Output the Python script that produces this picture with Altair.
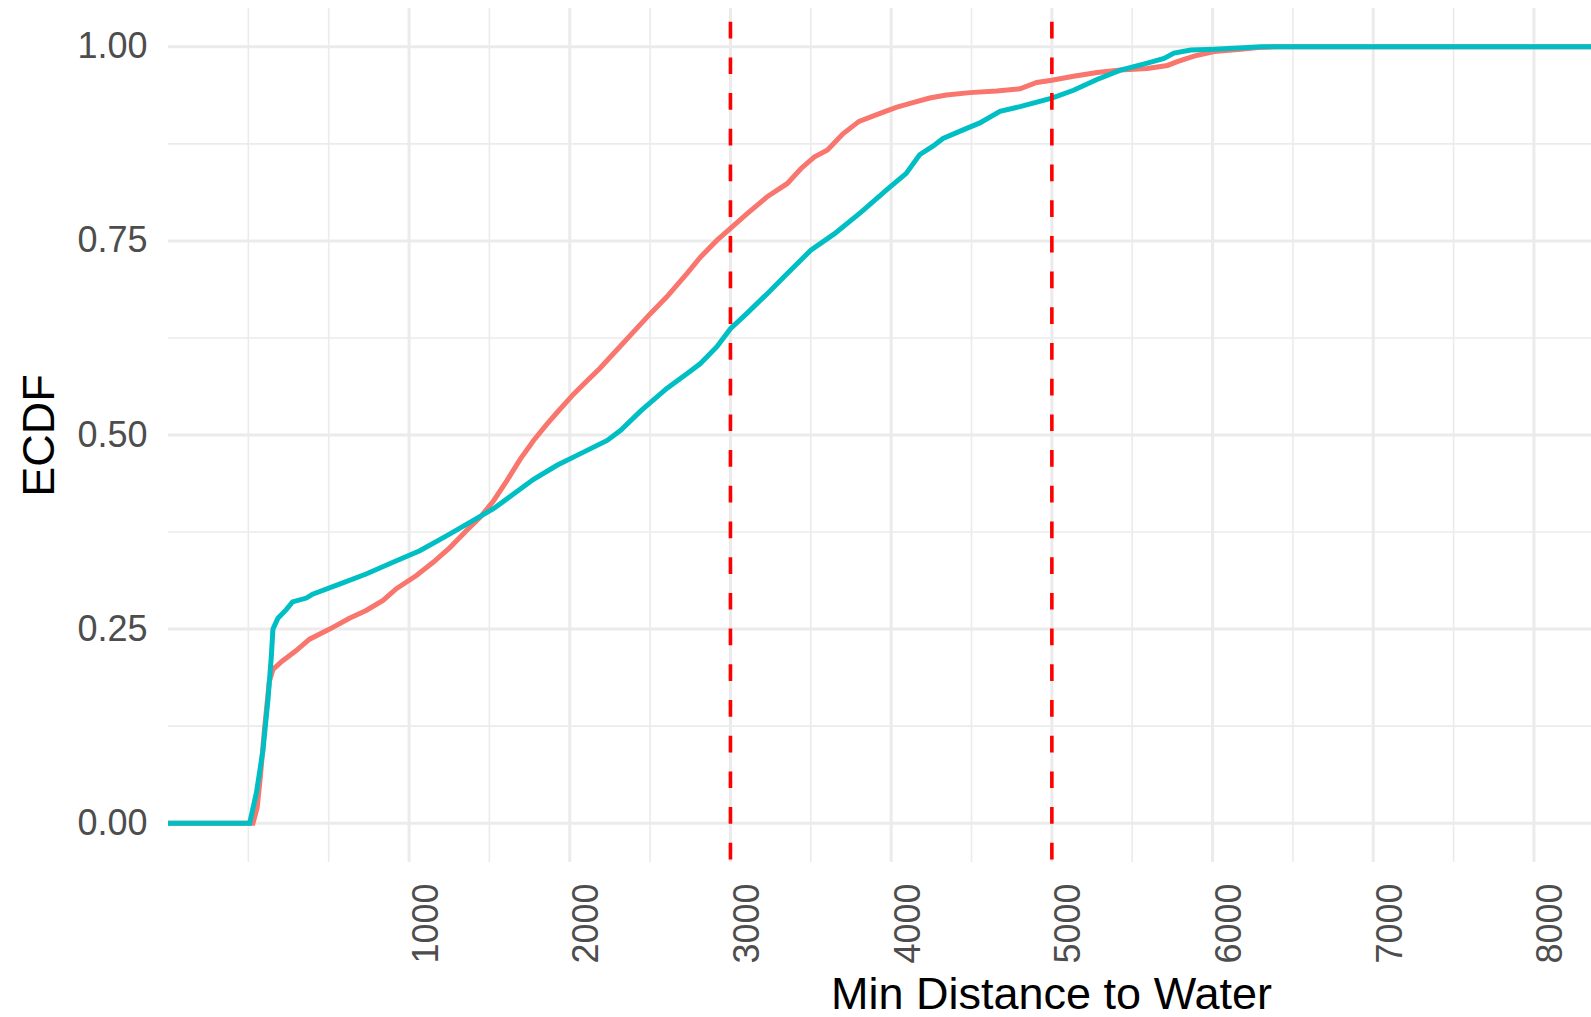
import altair as alt
import pandas as pd

# ---- data ----
series_names = ["Group 1", "Group 2"]
series_colors = ["#F8766D", "#00BFC4"]

red_x = [-500, 29, 55, 75, 100, 130, 153, 212, 296, 381, 506, 629, 733, 838, 921, 1046,
         1150, 1254, 1358, 1442, 1525, 1608, 1692, 1775, 1858, 1921, 2025, 2108, 2188,
         2313, 2500, 2604, 2729, 2813, 2917, 3000, 3104, 3229, 3354, 3438, 3521, 3604,
         3700, 3800, 3927, 4031, 4135, 4240, 4344, 4490, 4656, 4802, 4906, 5000, 5135,
         5281, 5427, 5594, 5719, 5781, 5885, 6010, 6177, 6281, 6400, 10500]
red_y = [0, 0, 0.02, 0.06, 0.12, 0.182, 0.198, 0.209, 0.222, 0.237, 0.25, 0.264, 0.274,
         0.287, 0.302, 0.319, 0.336, 0.355, 0.377, 0.394, 0.415, 0.441, 0.469, 0.493,
         0.514, 0.529, 0.553, 0.57, 0.586, 0.614, 0.656, 0.678, 0.708, 0.729, 0.751,
         0.766, 0.785, 0.807, 0.824, 0.843, 0.858, 0.867, 0.888, 0.904, 0.914, 0.922,
         0.928, 0.934, 0.938, 0.941, 0.943, 0.946, 0.954, 0.957, 0.962, 0.967, 0.970,
         0.972, 0.976, 0.981, 0.988, 0.994, 0.997, 0.999, 1.0, 1.0]

teal_x = [-500, 8, 50, 91, 122, 143, 153, 184, 236, 275, 361, 400, 567, 733, 900, 1067,
          1233, 1400, 1525, 1650, 1775, 1921, 2067, 2233, 2317, 2442, 2604, 2729, 2813,
          2917, 3000, 3104, 3229, 3354, 3500, 3646, 3813, 3979, 4094, 4177, 4260, 4323,
          4448, 4552, 4677, 4802, 5000, 5135, 5281, 5427, 5594, 5698, 5760, 5865, 6010,
          6219, 6300, 10500]
teal_y = [0, 0, 0.039, 0.094, 0.159, 0.215, 0.25, 0.264, 0.275, 0.285, 0.29, 0.295,
          0.308, 0.321, 0.336, 0.351, 0.370, 0.390, 0.405, 0.424, 0.443, 0.461, 0.476,
          0.493, 0.506, 0.531, 0.560, 0.579, 0.592, 0.614, 0.637, 0.657, 0.682, 0.708,
          0.738, 0.759, 0.787, 0.817, 0.837, 0.861, 0.872, 0.882, 0.893, 0.902, 0.917,
          0.923, 0.934, 0.944, 0.958, 0.970, 0.979, 0.985, 0.992, 0.996, 0.997, 0.999,
          1.0, 1.0]

vline_x = [3000, 5000]
x_major = [1000, 2000, 3000, 4000, 5000, 6000, 7000, 8000]
x_minor = [0, 500, 1500, 2500, 3500, 4500, 5500, 6500, 7500]
y_major = [0, 0.25, 0.5, 0.75, 1.0]
y_minor = [0.125, 0.375, 0.625, 0.875]

X_DOMAIN = [-500, 8355]
Y_DOMAIN = [-0.05, 1.05]

FONT = "Liberation Sans"
GRID = "#EBEBEB"

df = pd.concat([
    pd.DataFrame({"x": red_x, "y": red_y, "group": series_names[0], "order": range(len(red_x))}),
    pd.DataFrame({"x": teal_x, "y": teal_y, "group": series_names[1], "order": range(len(teal_x))}),
])

xs = alt.Scale(domain=X_DOMAIN, nice=False, zero=False)
ys = alt.Scale(domain=Y_DOMAIN, nice=False, zero=False)

x_axis = alt.Axis(
    values=x_major, format="d", title="Min Distance to Water", grid=False, ticks=False,
    tickSize=0, domain=False, labelAngle=270, labelAlign="right", labelBaseline="top",
    labelPadding=21, labelFontSize=36, labelColor="#4D4D4D", labelFont=FONT,
    labelFlush=False, labelOverlap=False,
    titleFont=FONT, titleFontSize=45, titleColor="#000000", titleFontWeight="normal",
    titleX=883, titleY=146, titleBaseline="alphabetic", titleAlign="center")
y_axis = alt.Axis(
    values=y_major, format=".2f", title="ECDF", grid=False, ticks=False, tickSize=0,
    domain=False, labelPadding=21, labelFontSize=36, labelColor="#4D4D4D",
    labelFont=FONT, labelFlush=False, labelOverlap=False,
    titleFont=FONT, titleFontSize=45, titleColor="#000000", titleFontWeight="normal",
    titleAngle=270, titleX=-115, titleY=427, titleBaseline="alphabetic",
    titleAlign="center")


def vgrid(vals, w):
    return alt.Chart(pd.DataFrame({"v": vals})).mark_rule(color=GRID, strokeWidth=w).encode(
        x=alt.X("v:Q", scale=xs, axis=x_axis))


def hgrid(vals, w):
    return alt.Chart(pd.DataFrame({"v": vals})).mark_rule(color=GRID, strokeWidth=w).encode(
        y=alt.Y("v:Q", scale=ys, axis=y_axis))


lines = alt.Chart(df).mark_line(strokeWidth=5, clip=True).encode(
    x=alt.X("x:Q", scale=xs, axis=x_axis),
    y=alt.Y("y:Q", scale=ys, axis=y_axis),
    color=alt.Color("group:N", scale=alt.Scale(domain=series_names, range=series_colors),
                    legend=None),
    detail="group:N",
    order="order:Q",
)

vlines = alt.Chart(pd.DataFrame({"v": vline_x})).mark_rule(
    color="#FF0000", strokeWidth=3.6, strokeDash=[16.7, 19], strokeDashOffset=22
).encode(x=alt.X("v:Q", scale=xs, axis=x_axis))

chart = alt.layer(
    vgrid(x_minor, 1.6), hgrid(y_minor, 1.6), vgrid(x_major, 3), hgrid(y_major, 3),
    lines, vlines
).properties(
    width=1423, height=854,
    autosize=alt.AutoSizeParams(type="none"),
    padding={"left": 168, "top": 8, "right": 0, "bottom": 155},
    background="white",
).configure_view(stroke=None)

chart.save("out.html", embed_options={"renderer": "svg", "actions": False})
